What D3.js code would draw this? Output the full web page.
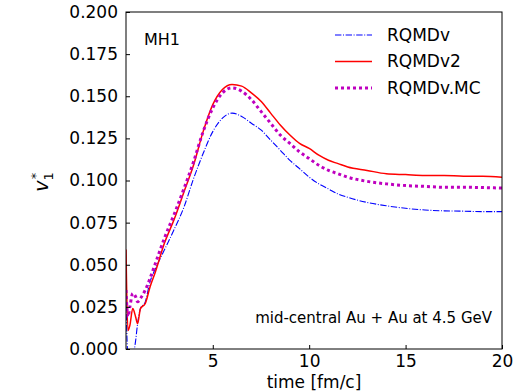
<!DOCTYPE html>
<html>
<head>
<meta charset="utf-8">
<script src="https://cdn.jsdelivr.net/npm/d3@7"></script>
<style>
  body { margin: 0; background: #fff; }
  text { font-family: "DejaVu Sans", sans-serif; fill: #000; }
</style>
</head>
<body>
<div id="chart"></div>
<script>
// time grid [fm/c]
var times = [0.5, 0.6, 0.7, 0.85, 1.0, 1.1, 1.25, 1.5, 1.75, 2.0, 2.5, 3.0, 3.5, 4.0, 4.5, 5.0, 5.5, 6.0, 6.5, 7.0,
             7.5, 8.0, 8.5, 9.0, 9.5, 10, 10.5, 11, 11.5, 12, 13, 14, 15, 16, 17, 18, 19, 20];
var rqmdv = [0.027, -0.005, -0.01, -0.005, 0.005, 0.015, 0.024, 0.028, 0.040, 0.047, 0.059, 0.071, 0.084, 0.101, 0.116, 0.129, 0.137, 0.140, 0.138, 0.134,
             0.130, 0.124, 0.118, 0.112, 0.107, 0.102, 0.098, 0.095, 0.092, 0.090, 0.087, 0.085, 0.0835, 0.0825, 0.082, 0.0818, 0.0815, 0.0815];
var rqmdv2 = [0.059, 0.011, 0.014, 0.024, 0.019, 0.015, 0.024, 0.027, 0.037, 0.045, 0.063, 0.077, 0.093, 0.109, 0.129, 0.145, 0.154, 0.157, 0.156, 0.152,
              0.147, 0.140, 0.133, 0.127, 0.122, 0.119, 0.115, 0.112, 0.110, 0.108, 0.106, 0.104, 0.1035, 0.103, 0.103, 0.1025, 0.1025, 0.102];
var rqmdvMC = [0.035, 0.019, 0.025, 0.033, 0.031, 0.028, 0.030, 0.035, 0.042, 0.050, 0.066, 0.080, 0.095, 0.111, 0.129, 0.143, 0.152, 0.155, 0.153, 0.148,
               0.141, 0.134, 0.127, 0.122, 0.117, 0.113, 0.109, 0.106, 0.104, 0.102, 0.0995, 0.098, 0.097, 0.0965, 0.096, 0.096, 0.0958, 0.0955];
var seriesNames = ["RQMDv", "RQMDv2", "RQMDv.MC"];
var xTicks = [5, 10, 15, 20];
var yTicks = [0, 0.025, 0.05, 0.075, 0.1, 0.125, 0.15, 0.175, 0.2];

var W = 523, H = 392;
var margin = {left: 126, right: 21, top: 12, bottom: 43};
var pw = W - margin.left - margin.right, ph = H - margin.top - margin.bottom;

var svg = d3.select("#chart").append("svg").attr("width", W).attr("height", H);
var g = svg.append("g").attr("transform", "translate(" + margin.left + "," + margin.top + ")");

var x = d3.scaleLinear().domain([0.5, 20]).range([0, pw]);
var y = d3.scaleLinear().domain([0, 0.2]).range([ph, 0]);

svg.append("defs").append("clipPath").attr("id", "clip")
  .append("rect").attr("width", pw).attr("height", ph);

var styles = [
  {color: "#0000ff", width: 1.1, dash: "6.4,1.6,1,1.6"},
  {color: "#ff0000", width: 1.5, dash: null},
  {color: "#bf00bf", width: 3, dash: "3,3"}
];
var data = [rqmdv, rqmdv2, rqmdvMC];

var line = d3.line().curve(d3.curveMonotoneX)
  .x(function(d){ return x(d[0]); }).y(function(d){ return y(d[1]); });

var plot = g.append("g").attr("clip-path", "url(#clip)");
data.forEach(function(vals, i){
  plot.append("path")
    .datum(times.map(function(t, j){ return [t, vals[j]]; }))
    .attr("d", line)
    .attr("fill", "none")
    .attr("stroke", styles[i].color)
    .attr("stroke-width", styles[i].width)
    .attr("stroke-dasharray", styles[i].dash);
});

// axes, ticks inward
var xAxis = g.append("g").attr("transform", "translate(0," + ph + ")")
  .call(d3.axisBottom(x).tickValues(xTicks).tickSizeInner(-4).tickSizeOuter(0).tickPadding(6).tickFormat(d3.format("d")));
var yAxis = g.append("g")
  .call(d3.axisLeft(y).tickValues(yTicks).tickSizeInner(-4).tickSizeOuter(0).tickPadding(8).tickFormat(d3.format(".3f")));
[xAxis, yAxis].forEach(function(a){
  a.select(".domain").remove();
  a.selectAll("text").style("font-size", "17px").attr("font-family", null);
  a.selectAll("line").attr("stroke", "#000");
});

g.append("rect").attr("width", pw).attr("height", ph)
  .attr("fill", "none").attr("stroke", "#000").attr("stroke-width", 1);

// axis labels
svg.append("text").attr("x", margin.left + pw / 2).attr("y", 388)
  .attr("text-anchor", "middle").style("font-size", "17px").text("time [fm/c]");

var yl = svg.append("text").attr("transform", "translate(48,182) rotate(-90)")
  .attr("text-anchor", "middle").style("font-size", "19px");
yl.append("tspan").style("font-style", "italic").text("v");
yl.append("tspan").attr("dy", "5").style("font-size", "13px").text("1");
yl.append("tspan").attr("dx", "-7").attr("dy", "-13").style("font-size", "13px").text("*");

// annotations
g.append("text").attr("x", 144 - margin.left).attr("y", 45 - margin.top)
  .style("font-size", "16px").text("MH1");
g.append("text").attr("x", 492 - margin.left).attr("y", 323 - margin.top)
  .attr("text-anchor", "end").style("font-size", "15px").text("mid-central Au + Au at 4.5 GeV");

// legend
var legY = [35, 61.5, 88];
seriesNames.forEach(function(name, i){
  svg.append("line").attr("x1", 335).attr("x2", 372).attr("y1", legY[i]).attr("y2", legY[i])
    .attr("stroke", styles[i].color).attr("stroke-width", styles[i].width)
    .attr("stroke-dasharray", styles[i].dash);
  svg.append("text").attr("x", 387).attr("y", legY[i]).attr("dy", "0.35em")
    .style("font-size", "17px").text(name);
});
</script>
</body>
</html>
